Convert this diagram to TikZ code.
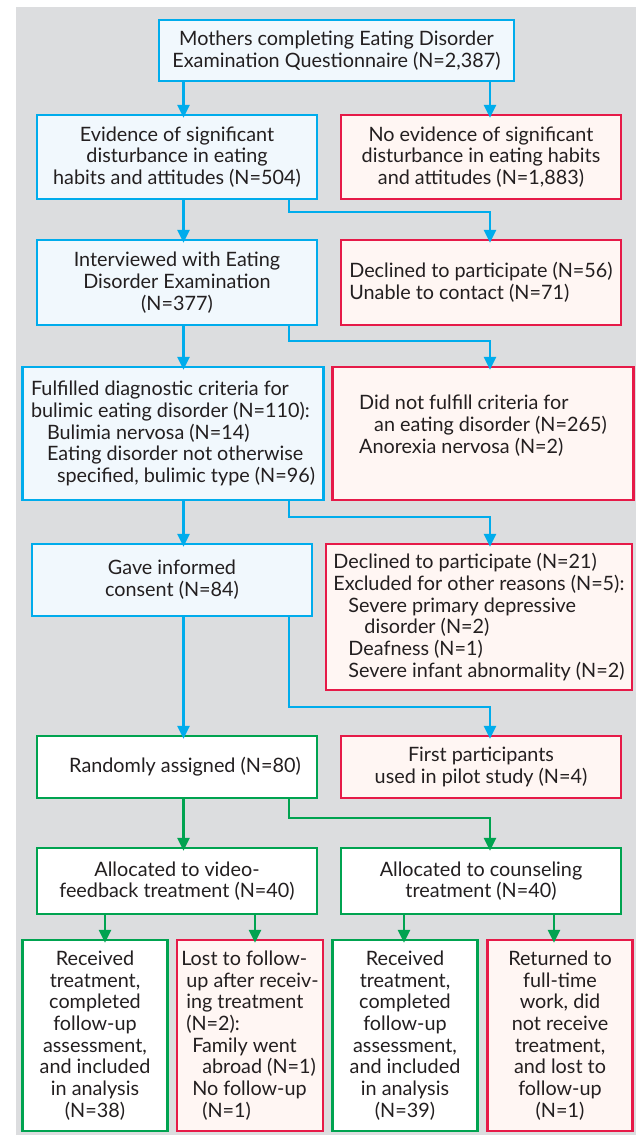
\documentclass[tikz,border=0pt]{standalone}
\usepackage{fontspec}
\setmainfont{Lato}
\usetikzlibrary{arrows.meta}
\definecolor{cblue}{RGB}{0,172,236}
\definecolor{cred}{RGB}{230,26,72}
\definecolor{cgreen}{RGB}{0,163,80}
\definecolor{fblue}{RGB}{241,248,253}
\definecolor{fred}{RGB}{255,246,243}
\definecolor{bggray}{RGB}{220,221,223}
\definecolor{tgray}{RGB}{35,31,32}
\tikzset{
  box/.style={draw, line width=2.3pt, inner sep=0pt, text=tgray,
    font=\fontsize{19.8}{21.7}\selectfont},
  bluebox/.style={box, draw=cblue, fill=fblue},
  redbox/.style={box, draw=cred, fill=fred},
  greenbox/.style={box, draw=cgreen, fill=white},
  barr/.style={line width=2.3pt, draw=cblue, -{Triangle[length=13pt,width=12pt]}, shorten >=-4pt},
  garr/.style={barr, draw=cgreen},
}

\begin{document}
\begin{tikzpicture}[x=1pt,y=-1pt]
\useasboundingbox (0,0) rectangle (636,1135);
\fill[bggray] (16,7) rectangle (636,1135);
\coordinate (L) at (183.5,0);
\coordinate (B) at (289,0);
\coordinate (R) at (490,0);
% first column and side boxes
\node[bluebox, minimum width=355pt, minimum height=61pt, align=center] (M) at (336.5,50.5)
  {Mothers completing Eating Disorder\\Examination Questionnaire (N=2,387)};
\node[bluebox, minimum width=280pt, minimum height=84pt, align=center] (E) at (177,157)
  {Evidence of significant\\disturbance in eating\\habits and attitudes (N=504)};
\node[redbox, minimum width=280pt, minimum height=84pt, align=center] (NE) at (481,157)
  {No evidence of significant\\disturbance in eating habits\\and attitudes (N=1,883)};
\node[bluebox, minimum width=280pt, minimum height=85pt, align=center] (I) at (177,282.5)
  {Interviewed with Eating\\Disorder Examination\\(N=377)};
\node[redbox, minimum width=280pt, minimum height=85pt, align=left] (D1) at (481,282.5)
  {Declined to participate (N=56)\\Unable to contact (N=71)};
\node[bluebox, minimum width=301pt, minimum height=133pt, align=left] (F) at (173,433.5)
  {Fulfilled diagnostic criteria for\\bulimic eating disorder (N=110):\\
   \hspace*{16pt}Bulimia nervosa (N=14)\\\hspace*{16pt}Eating disorder not otherwise\\
   \hspace*{26pt}specified, bulimic type (N=96)};
\node[redbox, minimum width=301pt, minimum height=133pt, align=left] (NF) at (483,433.5)
  {Did not fulfill criteria for\\\hspace*{15pt}an eating disorder (N=265)\\Anorexia nervosa (N=2)\\[-3pt]};
\node[bluebox, minimum width=280pt, minimum height=72pt, align=center] (G) at (172,580)
  {Gave informed\\consent (N=84)};
\node[redbox, minimum width=306pt, minimum height=146pt, align=left] (D2) at (479,617)
  {Declined to participate (N=21)\\Excluded for other reasons (N=5):\\
   \hspace*{15pt}Severe primary depressive\\\hspace*{31pt}disorder (N=2)\\
   \hspace*{15pt}Deafness (N=1)\\\hspace*{15pt}Severe infant abnormality (N=2)};
\node[greenbox, minimum width=280pt, minimum height=62pt, align=center] (RA) at (177,767)
  {\hspace*{16pt}Randomly assigned (N=80)};
\node[redbox, minimum width=280pt, minimum height=62pt, align=center] (P) at (481,767)
  {First participants\\used in pilot study (N=4)};
\node[greenbox, minimum width=280pt, minimum height=66pt, align=center] (V) at (177,881)
  {Allocated to video-\\feedback treatment (N=40)};
\node[greenbox, minimum width=280pt, minimum height=66pt, align=center] (C) at (481,881)
  {Allocated to counseling\\treatment (N=40)};
% bottom row
\node[greenbox, minimum width=145pt, minimum height=191pt, align=center] (B1) at (95,1035.5)
  {Received\\treatment,\\completed\\follow-up\\assessment,\\and included\\in analysis\\(N=38)};
\node[redbox, minimum width=146pt, minimum height=191pt, align=left] (B2) at (250,1035.5)
  {Lost to follow-\\\hspace*{5pt}up after receiv-\\\hspace*{5pt}ing treatment\\\hspace*{5pt}(N=2):\\
   \hspace*{11pt}Family went\\\hspace*{21pt}abroad (N=1)\\\hspace*{11pt}No follow-up\\\hspace*{21pt}(N=1)};
\node[greenbox, minimum width=145pt, minimum height=191pt, align=center] (B3) at (405,1035.5)
  {Received\\treatment,\\completed\\follow-up\\assessment,\\and included\\in analysis\\(N=39)};
\node[redbox, minimum width=145pt, minimum height=191pt, align=center] (B4) at (560,1035.5)
  {Returned to\\full-time\\work, did\\not receive\\treatment,\\and lost to\\follow-up\\(N=1)};
% connectors
\draw[barr] (M.south -| L) -- (E.north -| L);
\draw[barr] (M.south -| R) -- (NE.north -| R);
\draw[barr] (E.south -| L) -- (I.north -| L);
\draw[barr] (E.south -| B) -- ++(0,12) -| (D1.north -| R);
\draw[barr] (I.south -| L) -- (F.north -| L);
\draw[barr] (I.south -| B) -- ++(0,14.5) -| (NF.north -| R);
\draw[barr] (F.south -| L) -- (G.north -| L);
\draw[barr] (F.south -| B) -- ++(0,16) -| (D2.north -| R);
\draw[barr] (G.south -| L) -- (RA.north -| L);
\draw[barr] (G.south -| B) -- ++(0,90) -| (P.north -| R);
\draw[garr] (RA.south -| L) -- (V.north -| L);
\draw[garr] (RA.south -| B) -- ++(0,19) -| (C.north -| R);
\draw[garr] (V.south -| 105,0) -- (B1.north -| 105,0);
\draw[garr] (V.south -| 255,0) -- (B2.north -| 255,0);
\draw[garr] (C.south -| 404,0) -- (B3.north -| 404,0);
\draw[garr] (C.south -| 554,0) -- (B4.north -| 554,0);
\end{tikzpicture}
\end{document}
